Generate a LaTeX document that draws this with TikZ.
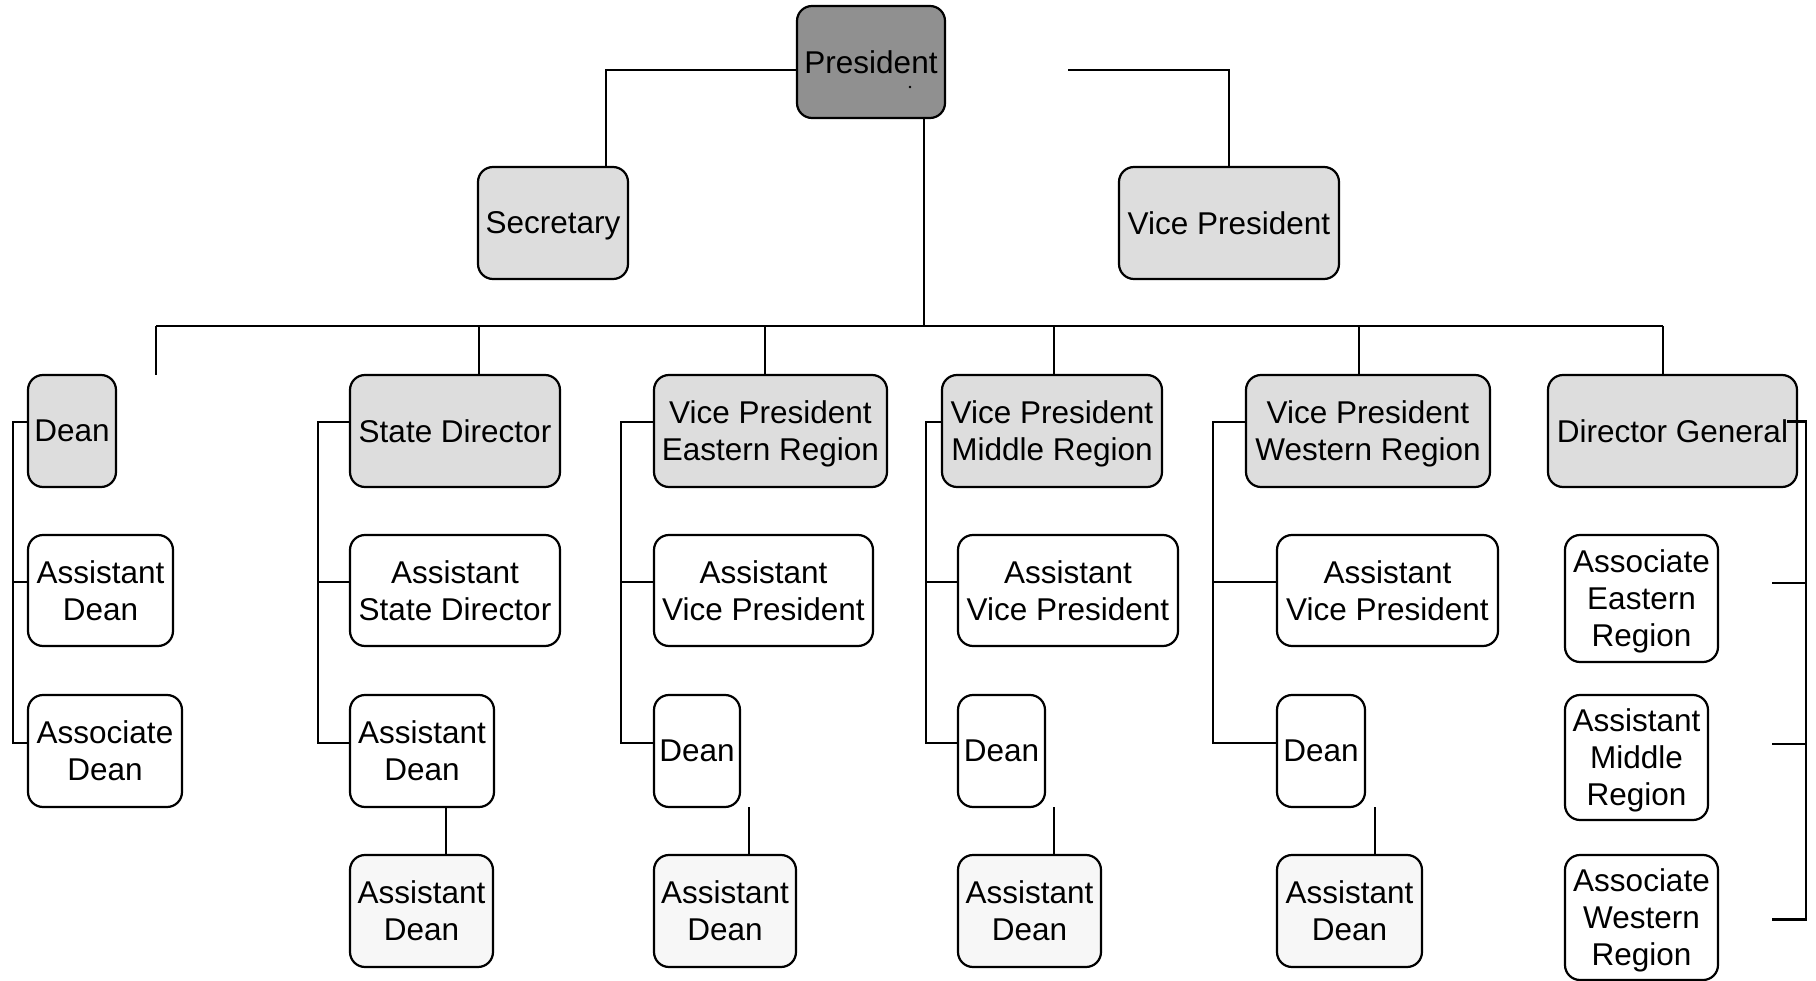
\documentclass[tikz,border=0pt]{standalone}
\usepackage{fontspec}
\setmainfont{Liberation Sans}
\definecolor{topgray}{RGB}{144,144,144}
\definecolor{headgray}{RGB}{221,221,221}
\definecolor{palegray}{RGB}{247,247,247}
% box given by its corners: name, x1, y1, x2, y2, style, text
\newcommand\orgbox[7]{%
  \pgfmathsetmacro\orgw{#4-#2}\pgfmathsetmacro\orgh{#5-#3}%
  \node[#6, minimum width=\orgw pt, minimum height=\orgh pt] (#1) at ({(#2+#4)/2},{(#3+#5)/2}) {#7};}
\tikzset{
  unit/.style={draw=black, line width=2.2pt, rounded corners=15pt, inner sep=0pt, outer sep=0pt,
    align=center, font=\fontsize{31.5pt}{37pt}\selectfont, fill=white},
  chief/.style={unit, fill=topgray},
  head/.style={unit, fill=headgray},
  staff/.style={unit, fill=white},
  junior/.style={unit, fill=palegray},
  nodesc/.style={text depth=0pt},
  link/.style={draw=black, line width=2.2pt},
}
\begin{document}
\begin{tikzpicture}[x=1pt,y=-1pt]
\useasboundingbox (0,0) rectangle (1816,981);

% top level
\orgbox{pres}{797}{6}{945}{118}{chief}{President}
\orgbox{sec}{478}{167}{628}{279}{head, nodesc}{Secretary}
\orgbox{vp}{1119}{167}{1339}{279}{head}{Vice President}
\fill ([xshift=39pt,yshift=-25pt]pres.center) circle (1.3pt);

% first column
\orgbox{dean}{28}{375}{116}{487}{head}{Dean}
\orgbox{asdean}{28}{535}{173}{646}{staff}{Assistant\\Dean}
\orgbox{acdean}{28}{695}{182}{807}{staff}{Associate\\Dean}

% state director column
\orgbox{sd}{350}{375}{560}{487}{head}{State Director}
\orgbox{asd}{350}{535}{560}{646}{staff}{Assistant\\State Director}
\orgbox{sdad}{350}{695}{494}{807}{staff}{Assistant\\Dean}
\orgbox{sdadb}{350}{855}{493}{967}{junior}{Assistant\\Dean}

% eastern region
\orgbox{vpe}{654}{375}{887}{487}{head, nodesc}{Vice President\\Eastern Region}
\orgbox{avpe}{654}{535}{873}{646}{staff}{Assistant\\Vice President}
\orgbox{deane}{654}{695}{740}{807}{staff}{Dean}
\orgbox{ade}{654}{855}{796}{967}{junior}{Assistant\\Dean}

% middle region
\orgbox{vpm}{942}{375}{1162}{487}{head, nodesc}{Vice President\\Middle Region}
\orgbox{avpm}{958}{535}{1178}{646}{staff}{Assistant\\Vice President}
\orgbox{deanm}{958}{695}{1045}{807}{staff}{Dean}
\orgbox{adm}{958}{855}{1101}{967}{junior}{Assistant\\Dean}

% western region
\orgbox{vpw}{1246}{375}{1490}{487}{head, nodesc}{Vice President\\Western Region}
\orgbox{avpw}{1277}{535}{1498}{646}{staff}{Assistant\\Vice President}
\orgbox{deanw}{1277}{695}{1365}{807}{staff}{Dean}
\orgbox{adw}{1277}{855}{1422}{967}{junior}{Assistant\\Dean}

% director general
\orgbox{dg}{1548}{375}{1797}{487}{head}{Director General}
\orgbox{ae}{1565}{535}{1718}{662}{staff, nodesc}{Associate\\Eastern\\Region}
\orgbox{am}{1565}{695}{1708}{820}{staff, nodesc}{Assistant\\Middle\\Region}
\orgbox{aw}{1565}{855}{1718}{980}{staff, nodesc}{Associate\\Western\\Region}

% president to secretary and vice president
\coordinate (secjoint) at (606,70);
\coordinate (vpstart) at (1068,70);
\draw[link] (pres.west |- secjoint) -- (secjoint) -- (secjoint |- sec.north);
\draw[link] (vpstart) -| (vp.north);

% president down to the bus
\coordinate (busmid) at (924,326);
\coordinate (busL) at (156,326);
\coordinate (busR) at (1663,326);
\coordinate (deantip) at (156,375);
\draw[link] (pres.south -| busmid) -- (busmid);
\draw[link] (busL) -- (busR);

% drops from the bus
\coordinate (dsd) at (479,326);
\coordinate (dvpe) at (765,326);
\coordinate (dvpm) at (1054,326);
\coordinate (dvpw) at (1359,326);
\draw[link] (busL) -- (deantip);
\draw[link] (dsd) -- (dsd |- sd.north);
\draw[link] (dvpe) -- (dvpe |- vpe.north);
\draw[link] (dvpm) -- (dvpm |- vpm.north);
\draw[link] (dvpw) -- (dvpw |- vpw.north);
\draw[link] (busR) -- (busR |- dg.north);

% brackets on the left of each column
\draw[link] ([yshift=9pt]dean.west) -- ++(-15,0) |- ([yshift=8pt]acdean.west);
\draw[link] ([yshift=8.5pt]asdean.west) -- ++(-15,0);

\draw[link] ([yshift=9pt]sd.west) -- ++(-32,0) |- ([yshift=8pt]sdad.west);
\draw[link] ([yshift=8.5pt]asd.west) -- ++(-32,0);

\draw[link] ([yshift=9pt]vpe.west) -- ++(-33,0) |- ([yshift=8pt]deane.west);
\draw[link] ([yshift=8.5pt]avpe.west) -- ++(-33,0);

\draw[link] ([yshift=9pt]vpm.west) -- ++(-16,0) |- ([yshift=8pt]deanm.west);
\draw[link] ([yshift=8.5pt]avpm.west) -- ++(-32,0);

\draw[link] ([yshift=9pt]vpw.west) -- ++(-33,0) |- ([yshift=8pt]deanw.west);
\draw[link] ([yshift=8.5pt]avpw.west) -- ++(-64,0);

% bracket on the right of the director general
\draw[link] ([xshift=-10pt,yshift=9.5pt]dg.east) -- ++(19,0) |- ([xshift=54pt,yshift=-2pt]aw.east);
\draw[link] ([xshift=54pt,yshift=15.5pt]ae.east) -- ++(34,0);
\draw[link] ([xshift=64pt,yshift=13.5pt]am.east) -- ++(34,0);

% links down to the last row
\coordinate (lsd) at (446,0);
\coordinate (le) at (749,0);
\coordinate (lm) at (1054,0);
\coordinate (lw) at (1375,0);
\draw[link] (sdad.south -| lsd) -- (sdadb.north -| lsd);
\draw[link] (deane.south -| le) -- (ade.north -| le);
\draw[link] (deanm.south -| lm) -- (adm.north -| lm);
\draw[link] (deanw.south -| lw) -- (adw.north -| lw);
\end{tikzpicture}
\end{document}
